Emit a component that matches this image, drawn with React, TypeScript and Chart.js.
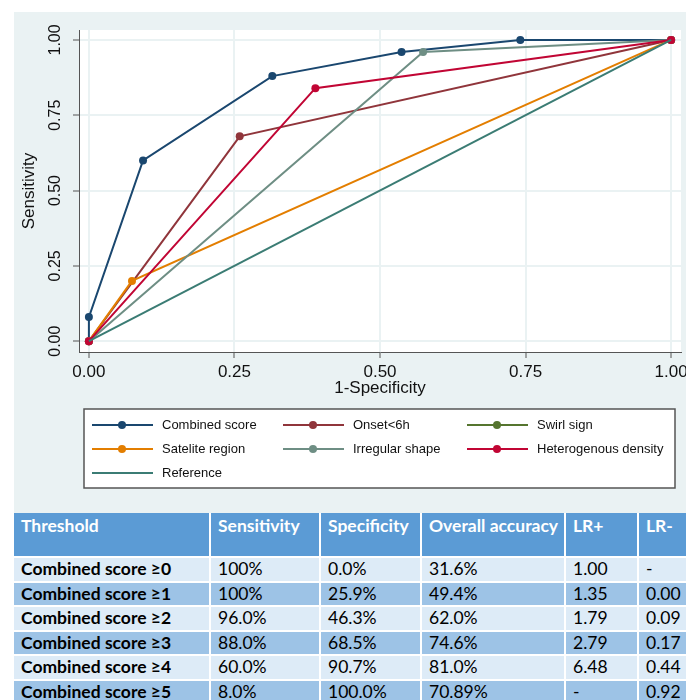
import React, { useEffect, useRef } from 'react';
import { Chart, registerables } from 'chart.js';

Chart.register(...registerables);

// ---------- data ----------
const SERIES_NAMES = [
  'Combined score',
  'Onset<6h',
  'Swirl sign',
  'Satelite region',
  'Irregular shape',
  'Heterogenous density',
  'Reference',
];
const SERIES_COLORS = ['#1a476f', '#90353b', '#55752f', '#e37e00', '#6e8e84', '#c10534', '#3b7c74'];

const combinedX = [0, 0, 0.093, 0.315, 0.537, 0.741, 1];
const combinedY = [0, 0.08, 0.6, 0.88, 0.96, 1, 1];
const onsetX = [0, 0.259, 1];
const onsetY = [0, 0.68, 1];
const swirlX: number[] = [];
const swirlY: number[] = [];
const sateliteX = [0, 0.074, 1];
const sateliteY = [0, 0.2, 1];
const irregularX = [0, 0.574, 1];
const irregularY = [0, 0.96, 1];
const heteroX = [0, 0.389, 1];
const heteroY = [0, 0.84, 1];
const referenceX = [0, 1];
const referenceY = [0, 1];

const AXIS_TICKS = [0, 0.25, 0.5, 0.75, 1];

const TABLE_HEADERS = ['Threshold', 'Sensitivity', 'Specificity', 'Overall accuracy', 'LR+', 'LR-'];
const THRESHOLDS = [
  'Combined score ≥0',
  'Combined score ≥1',
  'Combined score ≥2',
  'Combined score ≥3',
  'Combined score ≥4',
  'Combined score ≥5',
];
const SENSITIVITY = ['100%', '100%', '96.0%', '88.0%', '60.0%', '8.0%'];
const SPECIFICITY = ['0.0%', '25.9%', '46.3%', '68.5%', '90.7%', '100.0%'];
const ACCURACY = ['31.6%', '49.4%', '62.0%', '74.6%', '81.0%', '70.89%'];
const LR_POS = ['1.00', '1.35', '1.79', '2.79', '6.48', '-'];
const LR_NEG = ['-', '0.00', '0.09', '0.17', '0.44', '0.92'];

const SERIES_X = [combinedX, onsetX, swirlX, sateliteX, irregularX, heteroX, referenceX];
const SERIES_Y = [combinedY, onsetY, swirlY, sateliteY, irregularY, heteroY, referenceY];

const FONT = '"Liberation Sans", Arial, sans-serif';
const BG = '#eaf2f3';

const panelPlugin = {
  id: 'stataPanel',
  beforeDraw(chart: any) {
    const { ctx, chartArea: a, width, height } = chart;
    ctx.save();
    ctx.fillStyle = BG;
    ctx.fillRect(0, 0, width, height);
    ctx.fillStyle = '#ffffff';
    ctx.fillRect(a.left, a.top, a.right - a.left, a.bottom - a.top);
    ctx.restore();
  },
  afterDraw(chart: any) {
    const { ctx } = chart;
    const ys = chart.scales.y;
    // rotated y tick labels
    ctx.save();
    ctx.fillStyle = '#111';
    ctx.font = `16px ${FONT}`;
    ctx.textAlign = 'center';
    ctx.textBaseline = 'middle';
    ys.ticks.forEach((t: any) => {
      const py = ys.getPixelForValue(t.value);
      ctx.save();
      ctx.translate(42, py);
      ctx.rotate(-Math.PI / 2);
      ctx.fillText(Number(t.value).toFixed(2), 0, 0);
      ctx.restore();
    });
    ctx.restore();

    // legend box
    const bx = 70, by = 397, bw = 591, bh = 79;
    ctx.save();
    ctx.fillStyle = '#ffffff';
    ctx.fillRect(bx, by, bw, bh);
    ctx.strokeStyle = '#555';
    ctx.lineWidth = 1.5;
    ctx.strokeRect(bx, by, bw, bh);
    const colX = [78, 269, 453];
    const rowY = [413, 437, 461];
    ctx.font = `13px ${FONT}`;
    ctx.textBaseline = 'middle';
    ctx.textAlign = 'left';
    chart.data.datasets.forEach((ds: any, i: number) => {
      const cx = colX[i % 3];
      const cy = rowY[Math.floor(i / 3)];
      ctx.strokeStyle = ds.borderColor;
      ctx.lineWidth = 2;
      ctx.beginPath();
      ctx.moveTo(cx, cy);
      ctx.lineTo(cx + 61, cy);
      ctx.stroke();
      if (ds.pointRadius > 0) {
        ctx.fillStyle = ds.borderColor;
        ctx.beginPath();
        ctx.arc(cx + 30, cy, 4, 0, Math.PI * 2);
        ctx.fill();
      }
      ctx.fillStyle = '#111';
      ctx.fillText(ds.label, cx + 70, cy);
    });
    ctx.restore();
  },
};

function RocChart() {
  const ref = useRef<HTMLCanvasElement | null>(null);
  useEffect(() => {
    if (!ref.current) return;
    const datasets = SERIES_NAMES.map((name, i) => ({
      label: name,
      data: SERIES_X[i].map((x, j) => ({ x, y: SERIES_Y[i][j] })),
      borderColor: SERIES_COLORS[i],
      backgroundColor: SERIES_COLORS[i],
      pointBackgroundColor: SERIES_COLORS[i],
      pointBorderWidth: 0,
      pointRadius: name === 'Reference' ? 0 : 4,
      borderWidth: 2,
      showLine: true,
      order: SERIES_NAMES.length - i,
    }));
    const chart = new Chart(ref.current, {
      type: 'scatter',
      data: { datasets },
      plugins: [panelPlugin],
      options: {
        animation: false,
        responsive: false,
        devicePixelRatio: 1,
        layout: { padding: { left: 0, right: 5, top: 18, bottom: 114 } },
        plugins: { legend: { display: false }, tooltip: { enabled: false } },
        scales: {
          x: {
            type: 'linear',
            min: -0.017,
            max: 1.017,
            afterBuildTicks: (s: any) => {
              s.ticks = AXIS_TICKS.map((v) => ({ value: v }));
            },
            afterFit: (s: any) => {
              s.height = 47;
              s.paddingLeft = 0;
              s.paddingRight = 0;
            },
            grid: { color: BG, lineWidth: 2, tickColor: '#555', tickWidth: 1, tickLength: 6 },
            border: { display: true, color: '#555', width: 1 },
            ticks: {
              color: '#111',
              font: { family: FONT, size: 17 },
              padding: 4,
              maxRotation: 0,
              callback: (v: any) => Number(v).toFixed(2),
            },
            title: {
              display: true,
              text: '1-Specificity',
              color: '#111',
              font: { family: FONT, size: 17 },
              padding: 0,
            },
          },
          y: {
            type: 'linear',
            min: -0.036,
            max: 1.033,
            afterBuildTicks: (s: any) => {
              s.ticks = AXIS_TICKS.map((v) => ({ value: v }));
            },
            afterFit: (s: any) => {
              s.width = 65;
              s.paddingTop = 0;
              s.paddingBottom = 0;
            },
            grid: { color: BG, lineWidth: 2, tickColor: '#555', tickWidth: 1, tickLength: 6 },
            border: { display: true, color: '#555', width: 1 },
            ticks: { display: false },
            title: {
              display: true,
              text: 'Sensitivity',
              color: '#111',
              font: { family: FONT, size: 17 },
              padding: { top: 5, bottom: 0 },
            },
          },
        },
      },
    });
    return () => chart.destroy();
  }, []);
  return <canvas ref={ref} width={672} height={501} style={{ display: 'block', width: 672, height: 501 }} />;
}

const COL_WIDTHS = '195px 108px 99px 142px 71px 61px';

function StatsTable() {
  const rows = THRESHOLDS.map((t, i) => [t, SENSITIVITY[i], SPECIFICITY[i], ACCURACY[i], LR_POS[i], LR_NEG[i]]);
  const cellBase: React.CSSProperties = {
    fontFamily: 'Lato, "Open Sans", sans-serif',
    fontSize: 17.5,
    paddingLeft: 7,
    whiteSpace: 'nowrap',
    overflow: 'hidden',
    boxSizing: 'border-box',
  };
  return (
    <div
      style={{
        position: 'absolute',
        left: 14,
        top: 513,
        display: 'grid',
        gridTemplateColumns: COL_WIDTHS,
        gridTemplateRows: '43px repeat(6, 22.6px)',
        gap: 2,
        background: '#ffffff',
      }}
    >
      {TABLE_HEADERS.map((h) => (
        <div
          key={h}
          style={{ ...cellBase, background: '#5b9bd5', color: '#ffffff', fontWeight: 700, paddingTop: 2, lineHeight: '22px' }}
        >
          {h}
        </div>
      ))}
      {rows.map((r, i) =>
        r.map((c, j) => (
          <div
            key={`${i}-${j}`}
            style={{
              ...cellBase,
              background: i % 2 === 0 ? '#ddebf7' : '#9dc3e6',
              color: '#000',
              fontWeight: j === 0 ? 700 : 400,
              lineHeight: '22.6px',
            }}
          >
            {c}
          </div>
        ))
      )}
    </div>
  );
}

export default function App() {
  return (
    <div style={{ position: 'absolute', left: 0, top: 0, width: 686, height: 700, overflow: 'hidden', background: '#fff' }}>
      <div style={{ position: 'absolute', left: 14, top: 12 }}>
        <RocChart />
      </div>
      <StatsTable />
    </div>
  );
}
